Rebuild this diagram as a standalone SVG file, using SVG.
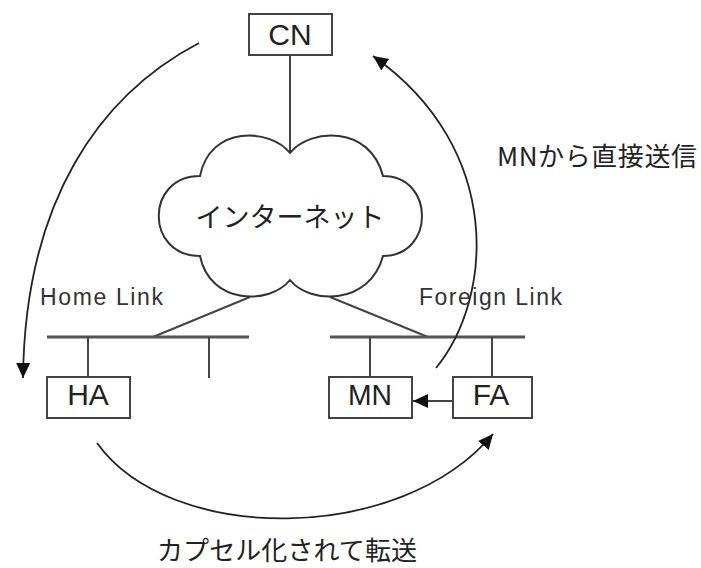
<svg xmlns="http://www.w3.org/2000/svg" width="701" height="568" viewBox="0 0 701 568">
<style>
.box{fill:#fff;stroke:#444;stroke-width:2}
.ln{fill:none;stroke:#444;stroke-width:2}
.bus{fill:none;stroke:#555;stroke-width:3}
.cv{fill:none;stroke:#222;stroke-width:1.8}
.lbl{font-family:"Liberation Sans",Arial,sans-serif;font-size:30px;fill:#222;text-anchor:middle}
.sm{font-family:"Liberation Sans",Arial,sans-serif;font-size:23px;fill:#333}
.jp{font-family:"Noto Sans CJK JP","Liberation Sans",sans-serif;font-size:26px;fill:#222}
</style>
<defs>
<marker id="ah" markerUnits="userSpaceOnUse" markerWidth="18" markerHeight="16" refX="15" refY="7" orient="auto">
<path d="M0,0 L15,7 L0,14 Z" fill="#111"/>
</marker>
</defs>
<rect width="701" height="568" fill="#fff"/>
<g id="connectors">
<line class="ln" x1="290" y1="55" x2="290" y2="153"/>
<line class="ln" x1="250" y1="297" x2="153" y2="337"/>
<line class="ln" x1="330" y1="297" x2="428" y2="337"/>
<line class="bus" x1="47" y1="337" x2="249" y2="337"/>
<line class="bus" x1="330" y1="337" x2="525" y2="337"/>
<line class="ln" x1="88" y1="337" x2="88" y2="377"/>
<line class="ln" x1="209" y1="337" x2="209" y2="378"/>
<line class="ln" x1="370" y1="337" x2="370" y2="378"/>
<line class="ln" x1="492" y1="337" x2="492" y2="378"/>
<line class="ln" x1="453" y1="401" x2="413" y2="401" marker-end="url(#ah)"/>
<path class="cv" d="M199,43 C100,95 25,200 23,378" marker-end="url(#ah)"/>
<path class="cv" d="M436,368 C492,300 506,150 373,56" marker-end="url(#ah)"/>
<path class="cv" d="M97,443 C170,545 400,545 493,434" marker-end="url(#ah)"/>
</g>
<g id="cloud">
<path d="M290,153 C310,128 370,125 383,176 C435,176 435,256 383,256 C370,305 310,305 290,280 C270,305 210,305 200,256 C145,256 145,176 200,176 C210,125 270,128 290,153 Z" fill="#fff" stroke="#333" stroke-width="2"/>
<text class="jp" x="290" y="227" text-anchor="middle" style="font-size:27px">インターネット</text>
</g>
<g id="CN">
<rect class="box" x="249" y="14" width="83" height="41"/>
<text class="lbl" x="290" y="45">CN</text>
</g>
<g id="HA">
<rect class="box" x="47" y="377" width="83" height="41"/>
<text class="lbl" x="88" y="405">HA</text>
</g>
<g id="MN">
<rect class="box" x="329" y="377" width="83" height="41"/>
<text class="lbl" x="370" y="405" textLength="44" lengthAdjust="spacingAndGlyphs">MN</text>
</g>
<g id="FA">
<rect class="box" x="453" y="377" width="79" height="41"/>
<text class="lbl" x="491" y="405">FA</text>
</g>
<g id="labels">
<text class="sm" x="40" y="305" textLength="123">Home Link</text>
<text class="sm" x="419" y="305" textLength="143">Foreign Link</text>
<text class="jp" x="497" y="166" textLength="200">MNから直接送信</text>
<text class="jp" x="157" y="560" textLength="260">カプセル化されて転送</text>
</g>
</svg>
